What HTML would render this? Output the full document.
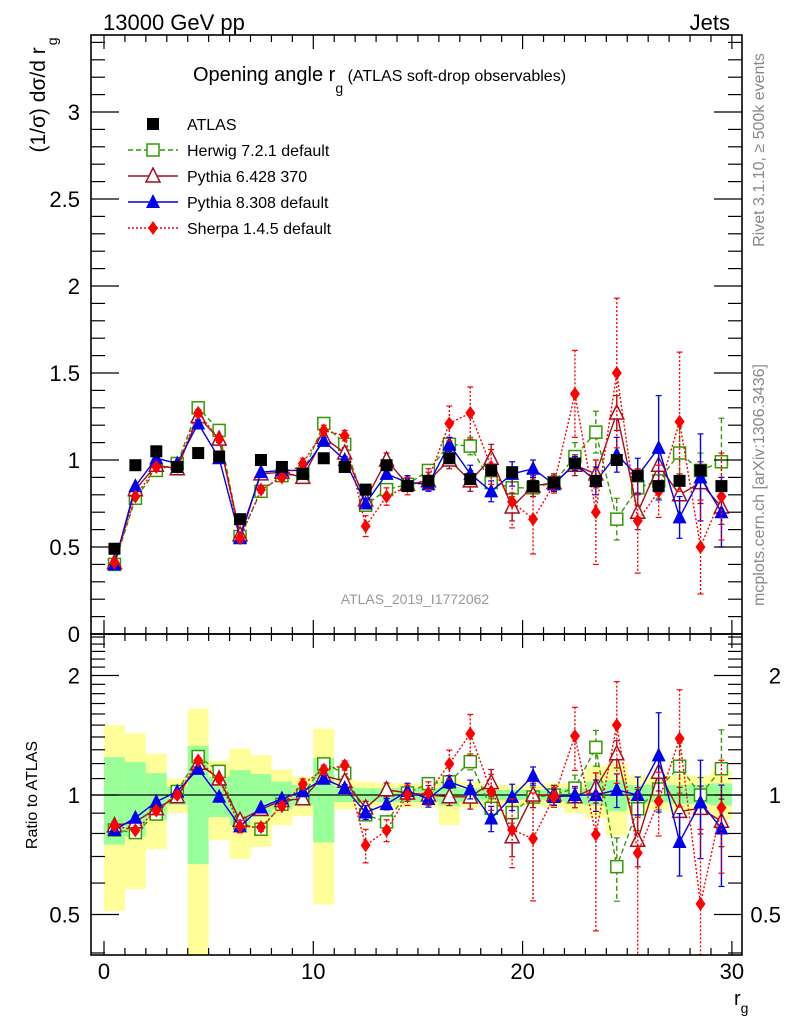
<!DOCTYPE html>
<html><head><meta charset="utf-8"><style>
body{margin:0;background:#fff}
svg{display:block;font-family:"Liberation Sans",sans-serif}
</style></head><body>
<svg id="c" width="786" height="1024" viewBox="0 0 786 1024">
<rect x="0" y="0" width="786" height="1024" fill="#fff"/>
<g id="bands"></g><g id="grid"></g><g id="series"></g><g id="axes"></g>
<text x="103" y="30" font-size="22">13000 GeV pp</text>
<text x="730" y="30" font-size="22" text-anchor="end">Jets</text>
<text x="193" y="81" font-size="20">Opening angle r<tspan font-size="14" dy="12">g</tspan><tspan font-size="16" dy="-12"> (ATLAS soft-drop observables)</tspan></text>
<text transform="translate(45,95) rotate(-90)" font-size="21" text-anchor="middle">(1/σ) dσ/d r<tspan font-size="14" dx="2" dy="12">g</tspan></text>
<text transform="translate(764,150) rotate(-90)" font-size="16" fill="#888" text-anchor="middle">Rivet 3.1.10, ≥ 500k events</text>
<text transform="translate(764,485) rotate(-90)" font-size="16" fill="#888" text-anchor="middle">mcplots.cern.ch [arXiv:1306.3436]</text>
<text x="415" y="604" font-size="14" fill="#999" text-anchor="middle">ATLAS_2019_I1772062</text>
<text transform="translate(37,795) rotate(-90)" font-size="16" text-anchor="middle">Ratio to ATLAS</text>
<text x="734" y="1005" font-size="20">r<tspan font-size="14" dy="8">g</tspan></text>
<g id="legend"></g>
</svg>
<script>
const bins=[0.5,1.5,2.5,3.5,4.5,5.5,6.5,7.5,8.5,9.5,10.5,11.5,12.5,13.5,14.5,15.5,16.5,17.5,18.5,19.5,20.5,21.5,22.5,23.5,24.5,25.5,26.5,27.5,28.5,29.5];
const atlas=[0.49,0.97,1.05,0.96,1.04,1.02,0.66,1.00,0.96,0.92,1.01,0.96,0.83,0.97,0.85,0.88,1.01,0.89,0.94,0.93,0.85,0.87,0.98,0.88,1.00,0.91,0.85,0.88,0.94,0.85];
const herwig=[0.40,0.78,0.94,0.98,1.30,1.17,0.56,0.82,0.91,0.92,1.21,1.09,0.74,0.83,0.86,0.94,1.09,1.08,0.87,0.84,0.84,0.87,1.02,1.16,0.66,0.84,0.88,1.04,0.94,0.99];
const herwigErr=[0.01,0.01,0.01,0.01,0.02,0.02,0.01,0.01,0.02,0.02,0.02,0.02,0.02,0.02,0.03,0.03,0.04,0.05,0.05,0.05,0.05,0.05,0.08,0.12,0.12,0.1,0.1,0.15,0.1,0.25];
const py6=[0.41,0.83,0.97,0.95,1.25,1.12,0.57,0.92,0.93,0.90,1.13,1.04,0.77,1.00,0.86,0.88,1.00,0.88,1.01,0.73,0.85,0.87,0.97,0.92,1.27,0.70,0.97,0.80,0.87,0.73];
const py6Err=[0.01,0.01,0.01,0.01,0.02,0.02,0.01,0.01,0.02,0.02,0.02,0.03,0.03,0.04,0.04,0.05,0.05,0.06,0.08,0.08,0.06,0.05,0.06,0.08,0.1,0.1,0.1,0.12,0.12,0.1];
const py8=[0.40,0.85,1.01,0.98,1.21,1.01,0.55,0.93,0.94,0.94,1.11,1.00,0.75,0.92,0.87,0.86,1.09,0.92,0.82,0.92,0.95,0.86,0.98,0.88,1.03,0.91,1.07,0.67,0.90,0.70];
const py8Err=[0.01,0.01,0.01,0.01,0.02,0.02,0.01,0.01,0.02,0.02,0.02,0.02,0.03,0.03,0.04,0.04,0.04,0.05,0.06,0.07,0.05,0.04,0.04,0.08,0.1,0.1,0.3,0.12,0.25,0.2];
const sherpa=[0.41,0.79,0.96,0.96,1.27,1.12,0.55,0.83,0.90,0.98,1.17,1.14,0.62,0.79,0.85,0.89,1.21,1.27,0.96,0.76,0.66,0.86,1.38,0.70,1.50,0.65,0.82,1.22,0.50,0.79];
const sherpaErr=[0.01,0.01,0.02,0.02,0.02,0.02,0.02,0.02,0.02,0.03,0.03,0.03,0.06,0.05,0.05,0.06,0.1,0.15,0.1,0.15,0.2,0.05,0.25,0.3,0.43,0.3,0.15,0.4,0.27,0.25];
const yelUp=[1.50,1.43,1.27,1.10,1.65,1.22,1.31,1.26,1.16,1.11,1.47,1.09,1.08,1.07,1.07,1.07,1.10,1.08,1.06,1.06,1.06,1.07,1.07,1.18,1.20,1.12,1.12,1.12,1.12,1.15];
const yelDn=[0.51,0.58,0.73,0.90,0.35,0.77,0.69,0.74,0.84,0.885,0.53,0.92,0.93,0.93,0.93,0.93,0.84,0.93,0.94,0.94,0.94,0.93,0.90,0.875,0.79,0.90,0.92,0.90,0.90,0.87];
const grnUp=[1.245,1.21,1.135,1.05,1.33,1.11,1.155,1.13,1.08,1.06,1.24,1.05,1.04,1.04,1.04,1.04,1.05,1.04,1.03,1.03,1.03,1.035,1.04,1.08,1.09,1.06,1.06,1.06,1.06,1.07];
const grnDn=[0.75,0.785,0.865,0.945,0.67,0.88,0.84,0.88,0.92,0.94,0.76,0.96,0.96,0.96,0.96,0.96,0.94,0.96,0.97,0.97,0.97,0.965,0.95,0.94,0.91,0.95,0.96,0.95,0.95,0.94];

const NS='http://www.w3.org/2000/svg';
const L=91,R=742,T=35,MB=634,RB=955;
const X=v=>104+v*20.93;
const Y=v=>634-v*174;
const RY=r=>795-119.5*Math.log2(r);
const clampR=y=>Math.max(MB,Math.min(RB,y));
function el(tag,attrs,parent){const e=document.createElementNS(NS,tag);for(const k in attrs)e.setAttribute(k,attrs[k]);parent.appendChild(e);return e;}
const gB=document.getElementById('bands'),gS=document.getElementById('series'),gA=document.getElementById('axes'),gL=document.getElementById('legend');

bins.forEach((b,i)=>{
  const x0=X(b-0.5),x1=X(b+0.5);
  let y1=clampR(RY(yelUp[i])),y2=clampR(RY(yelDn[i]));
  const r1=el('rect',{x:x0,y:y1,width:x1-x0,height:y2-y1,fill:'#ffff99'},gB);
  
  
  y1=clampR(RY(grnUp[i]));y2=clampR(RY(grnDn[i]));
  const r2=el('rect',{x:x0,y:y1,width:x1-x0,height:y2-y1,fill:'#99ff99'},gB);
  
  
});
const one=el('line',{x1:L,x2:R,y1:RY(1),y2:RY(1),stroke:'#000','stroke-width':1.3},gB);



function marker(kind,x,y,color,g){
  let m;
  if(kind==='sq') m=el('rect',{x:x-6,y:y-6,width:12,height:12,fill:'#000'},g);
  else if(kind==='osq') m=el('rect',{x:x-6,y:y-6,width:12,height:12,fill:'#fff',stroke:color,'stroke-width':1.5},g);
  else if(kind==='otri') m=el('polygon',{points:`${x},${y-8} ${x-7},${y+6} ${x+7},${y+6}`,fill:'#fff',stroke:color,'stroke-width':1.5},g);
  else if(kind==='tri') m=el('polygon',{points:`${x},${y-8} ${x-7},${y+6} ${x+7},${y+6}`,fill:color},g);
  else m=el('polygon',{points:`${x},${y-7} ${x-5},${y} ${x},${y+7} ${x+5},${y}`,fill:color},g);
  return m;
}
const series=[
 {name:'herwig',vals:herwig,err:herwigErr,color:'#339900',dash:'5,3',kind:'osq',label:'Herwig 7.2.1 default'},
 {name:'pythia6',vals:py6,err:py6Err,color:'#a01020',dash:'',kind:'otri',label:'Pythia 6.428 370'},
 {name:'pythia8',vals:py8,err:py8Err,color:'#0000ee',dash:'',kind:'tri',label:'Pythia 8.308 default'},
 {name:'sherpa',vals:sherpa,err:sherpaErr,color:'#ff0000',dash:'2,2',kind:'dia',label:'Sherpa 1.4.5 default'}
];
function drawSeries(s,ratio){
  const g=el('g',{},gS);
  
  
  const yf=ratio?(v,i)=>clampR(RY(v/atlas[i])):(v,i)=>Y(v);
  const pts=s.vals.map((v,i)=>X(bins[i])+','+yf(v,i)).join(' ');
  const line=el('polyline',{points:pts,fill:'none',stroke:s.color,'stroke-width':1.4,'stroke-dasharray':s.dash},g);
  
  
  s.vals.forEach((v,i)=>{
    const x=X(bins[i]);
    const yh=yf(v+s.err[i],i),yl=yf(Math.max(v-s.err[i],0.01),i);
    el('line',{x1:x,x2:x,y1:yh,y2:yl,stroke:s.color,'stroke-width':1.4,'stroke-dasharray':s.dash},g);
    el('line',{x1:x-3,x2:x+3,y1:yh,y2:yh,stroke:s.color,'stroke-width':1.2},g);
    el('line',{x1:x-3,x2:x+3,y1:yl,y2:yl,stroke:s.color,'stroke-width':1.2},g);
    const m=marker(s.kind,x,yf(v,i),s.color,g);
    
    
  });
}
series.forEach(s=>{drawSeries(s,false);drawSeries(s,true);});
const gd=el('g',{},gS);


atlas.forEach((v,i)=>{
  const m=marker('sq',X(bins[i]),Y(v),'#000',gd);
  
  
});

[[T,MB],[MB,RB]].forEach(([a,b],k)=>{
  const f=el('rect',{x:L,y:a,width:R-L,height:b-a,fill:'none',stroke:'#000','stroke-width':1.6},gA);
  
  
});
for(let v=0;v<=30;v++){
  const x=X(v),len=v%10===0?14:7;
  [[T,1],[MB,-1],[MB,1],[RB,-1]].forEach(([y,d])=>el('line',{x1:x,x2:x,y1:y,y2:y+d*len,stroke:'#000','stroke-width':1.2},gA));
}
const xt=[0,10,20,30];
xt.forEach(v=>{const t=el('text',{x:X(v),y:979,'font-size':22,'text-anchor':'middle'},gA);t.textContent=v;
 });
for(let k=0;k<=34;k++){
  const v=k/10,y=Y(v),len=k%5===0?28:14;
  el('line',{x1:L,x2:L+len,y1:y,y2:y,stroke:'#000','stroke-width':1.2},gA);
  el('line',{x1:R,x2:R-len,y1:y,y2:y,stroke:'#000','stroke-width':1.2},gA);
}
const yt=['0','0.5','1','1.5','2','2.5','3'];
yt.forEach(s=>{const t=el('text',{x:80,y:Y(+s)+8,'font-size':22,'text-anchor':'end'},gA);t.textContent=s;
 });
const rt=[0.4,0.5,0.6,0.7,0.8,0.9,1,1.1,1.2,1.3,1.4,1.5,1.6,1.7,1.8,1.9,2,2.1,2.2,2.3,2.4,2.5];
rt.forEach(r=>{const y=RY(r);if(y<MB||y>RB)return;const len=(r===0.5||r===1||r===2)?28:14;
  el('line',{x1:L,x2:L+len,y1:y,y2:y,stroke:'#000','stroke-width':1.2},gA);
  el('line',{x1:R,x2:R-len,y1:y,y2:y,stroke:'#000','stroke-width':1.2},gA);});
const rl=['0.5','1','2'];
rl.forEach(s=>{
  const t=el('text',{x:80,y:RY(+s)+8,'font-size':22,'text-anchor':'end'},gA);t.textContent=s;
  
  const t2=el('text',{x:781,y:RY(+s)+8,'font-size':22,'text-anchor':'end'},gA);t2.textContent=s;
  
});
const lg=[{kind:'sq',color:'#000',dash:null,label:'ATLAS'}].concat(series);
lg.forEach((s,i)=>{
  const y=124+i*26,g=el('g',{},gL);
  
  
  if(s.dash!==null) el('line',{x1:128,x2:178,y1:y,y2:y,stroke:s.color,'stroke-width':1.4,'stroke-dasharray':s.dash},g);
  marker(s.kind,153,y,s.color,g);
  const t=el('text',{x:187,y:y+6,'font-size':16},g);t.textContent=s.label;
});
</script>
</body></html>
